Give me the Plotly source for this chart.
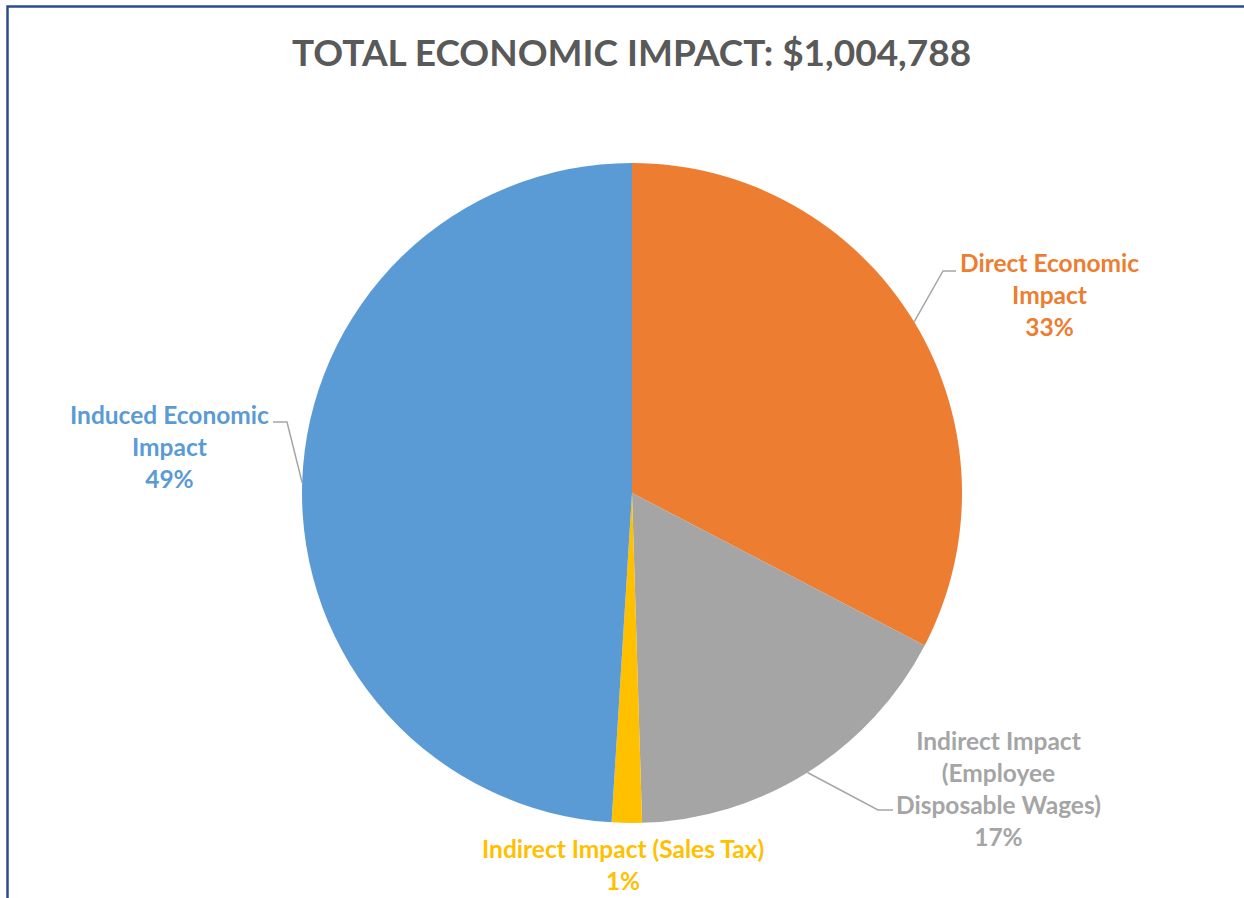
import math
import plotly.graph_objects as go

# ---- data ----
categories = ["Direct Economic Impact", "Indirect Impact (Employee Disposable Wages)",
              "Indirect Impact (Sales Tax)", "Induced Economic Impact"]
label_text = ["Direct Economic<br>Impact", "Indirect Impact<br>(Employee<br>Disposable Wages)",
              "Indirect Impact (Sales Tax)", "Induced Economic<br>Impact"]
values = [328000, 169500, 14800, 492488]
colors = ["#ED7D31", "#A5A5A5", "#FFC000", "#5B9BD5"]
title_text = "TOTAL ECONOMIC IMPACT: $1,004,788"

# ---- layout constants (pixels) ----
W, H = 1244, 898
cx, cy, R = 632, 493, 330
FONT = "Lato"

def px(x):
    return x / W

def py(y):
    return 1 - y / H

total = sum(values)
pcts = [v / total * 100 for v in values]

fig = go.Figure(go.Pie(
    labels=categories, values=values, sort=False, direction="clockwise", rotation=0,
    marker=dict(colors=colors, line=dict(width=0)),
    textinfo="none", hoverinfo="label+percent", showlegend=False,
    domain=dict(x=[px(cx - R), px(cx + R)], y=[py(cy + R), py(cy - R)]),
))

# label placement (pixel centres) and leader elbows
label_pos = [(1049, 295), (998, 788), (623, 864), (169, 446)]
elbows = [[(943, 271), (956, 271)], [(878, 810), (893, 810)], None, [(287, 422), (273, 422)]]

shapes = []
annotations = []
cum = 0.0
for i, v in enumerate(values):
    frac_mid = (cum + v / 2) / total
    cum += v
    ang = 2 * math.pi * frac_mid
    ex, ey = cx + R * math.sin(ang), cy - R * math.cos(ang)
    if elbows[i]:
        pts = [(ex, ey)] + elbows[i]
        path = "M " + " L ".join(f"{px(x)},{py(y)}" for x, y in pts)
        shapes.append(dict(type="path", xref="paper", yref="paper", path=path,
                           line=dict(color="#A6A6A6", width=1.5)))
    lx, ly = label_pos[i]
    annotations.append(dict(
        x=px(lx), y=py(ly), xref="paper", yref="paper", showarrow=False,
        xanchor="center", yanchor="middle", align="center",
        text=f"{label_text[i]}<br>{round(pcts[i]):.0f}%",
        font=dict(family=FONT, size=24.5, color=colors[i], weight="bold"),
    ))

annotations.append(dict(
    x=px(631), y=py(52), xref="paper", yref="paper", showarrow=False,
    xanchor="center", yanchor="middle", text=title_text,
    font=dict(family=FONT, size=37, color="#595959", weight="bold"),
))

# chart frame (left and top edges visible)
shapes.append(dict(type="path", xref="paper", yref="paper",
                   path=f"M {px(7.5)},-0.01 L {px(7.5)},{py(6.5)} L 1.01,{py(6.5)}",
                   line=dict(color="#2A4D8F", width=2.5)))

fig.update_layout(
    width=W, height=H, margin=dict(l=0, r=0, t=0, b=0),
    paper_bgcolor="white", plot_bgcolor="white",
    shapes=shapes, annotations=annotations,
)

fig.write_html("out.html")
